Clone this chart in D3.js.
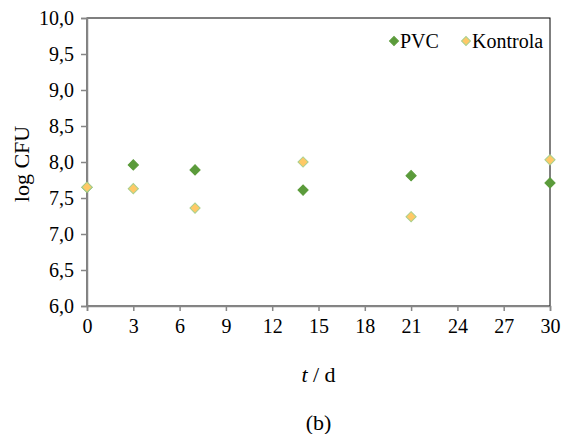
<!DOCTYPE html>
<html><head><meta charset="utf-8">
<script src="https://cdn.jsdelivr.net/npm/d3@7"></script>
<style>body{margin:0;background:#fff}svg{display:block}
svg text{font-family:"Liberation Serif","Times New Roman",Times,serif !important;}</style>
</head><body>
<svg id="c" width="561" height="434"></svg>
<script>
const days = [0, 3, 7, 14, 21, 30];
const pvc = [7.65, 7.96, 7.89, 7.61, 7.81, 7.71];
const kontrola = [7.65, 7.63, 7.36, 8.00, 7.24, 8.03];
const seriesNames = ["PVC", "Kontrola"];
const seriesColors = ["#5B9B3B", "#FFC966"];
const seriesStrokes = ["#5B9B3B", "#A9D08E"];
const xTicks = [0, 3, 6, 9, 12, 15, 18, 21, 24, 27, 30];
const yTicks = [6.0, 6.5, 7.0, 7.5, 8.0, 8.5, 9.0, 9.5, 10.0];

const svg = d3.select("#c");
const L = 87, R = 550, T = 18, B = 306;
const x = d3.scaleLinear().domain([0, 30]).range([L, R]);
const y = d3.scaleLinear().domain([6, 10]).range([B, T]);

svg.append("rect").attr("x", L).attr("y", T).attr("width", R - L).attr("height", B - T)
  .attr("fill", "none").attr("stroke", "#000").attr("stroke-width", 1);

const fmt = d => d3.format(".1f")(d).replace(".", ",");
const yAxis = svg.append("g").attr("transform", `translate(${L},0)`)
  .call(d3.axisLeft(y).tickValues(yTicks).tickFormat(fmt).tickSize(6).tickPadding(7));
const xAxis = svg.append("g").attr("transform", `translate(0,${B})`)
  .call(d3.axisBottom(x).tickValues(xTicks).tickFormat(d3.format("d")).tickSize(5).tickPadding(8));
[yAxis, xAxis].forEach(a => {
  a.attr("font-family", null);
  a.select(".domain").attr("stroke", "#868686").attr("stroke-width", 1.5);
  a.selectAll(".tick line").attr("stroke", "#868686").attr("stroke-width", 1.5);
  a.selectAll("text").attr("font-size", 20).attr("fill", "#000");
});

const sym = d3.symbol().type(d3.symbolSquare).size(52);
const data = [pvc, kontrola];
data.forEach((vals, i) => {
  svg.append("g").selectAll("path").data(days.map((d, j) => [d, vals[j]])).join("path")
    .attr("d", sym)
    .attr("transform", d => `translate(${x(d[0])},${y(d[1])}) rotate(45)`)
    .attr("fill", seriesColors[i]).attr("stroke", seriesStrokes[i]).attr("stroke-width", 1);
});

// legend
const legX = [394, 466];
seriesNames.forEach((n, i) => {
  svg.append("path").attr("d", d3.symbol().type(d3.symbolSquare).size(40))
    .attr("transform", `translate(${legX[i]},41) rotate(45)`)
    .attr("fill", seriesColors[i]).attr("stroke", seriesStrokes[i]).attr("stroke-width", 1);
  svg.append("text").attr("x", legX[i] + 6).attr("y", 48).text(n)
    .attr("font-size", 20).attr("fill", "#000");
});

svg.append("text").attr("transform", "translate(29,164) rotate(-90)")
  .attr("text-anchor", "middle").attr("font-size", 22).text("log CFU");

const t = svg.append("text").attr("x", (L + R) / 2).attr("y", 382).attr("text-anchor", "middle")
  .attr("font-size", 22);
t.append("tspan").attr("font-style", "italic").text("t");
t.append("tspan").text(" / d");

svg.append("text").attr("x", (L + R) / 2).attr("y", 430).attr("text-anchor", "middle")
  .attr("font-size", 22).text("(b)");
</script>
</body></html>
